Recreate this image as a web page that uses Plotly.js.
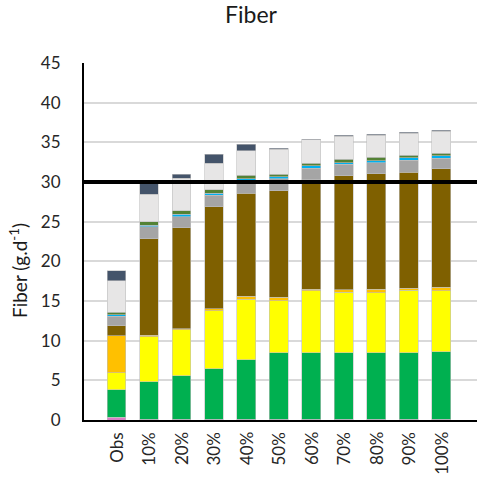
<!DOCTYPE html>
<html><head><meta charset="utf-8">
<script src="https://cdn.plot.ly/plotly-3.0.1.min.js"></script>
<style>html,body{margin:0;padding:0;background:#fff}#c{width:479px;height:482px}</style>
</head><body><div id="c"></div>
<script>
const categories = ["Obs","10%","20%","30%","40%","50%","60%","70%","80%","90%","100%"];
const pinkBase   = [0.35,0,0,0,0,0,0,0,0,0,0];
const slateBase  = [0,0.12,0.12,0.12,0.12,0.12,0.12,0.12,0.12,0.12,0.12];
const greenVals  = [3.45,4.71,5.43,6.35,7.45,8.33,8.33,8.33,8.33,8.33,8.48];
const yellowVals = [2.16,5.67,5.8,7.28,7.63,6.6,7.85,7.65,7.6,7.9,7.7];
const orangeVals = [4.63,0.2,0.15,0.25,0.4,0.45,0.2,0.3,0.45,0.25,0.45];
const brownVals  = [1.26,12.15,12.74,12.89,12.98,13.37,13.8,14.36,14.51,14.62,14.89];
const grayVals   = [1.25,1.48,1.39,1.47,1.62,1.51,1.42,1.47,1.43,1.51,1.34];
const blueVals   = [0.14,0.25,0.3,0.25,0.18,0.29,0.3,0.21,0.21,0.34,0.3];
const oliveVals  = [0.33,0.38,0.42,0.42,0.5,0.33,0.33,0.42,0.46,0.33,0.33];
const lightVals  = [3.99,3.49,4.12,3.33,3.07,3.1,2.95,2.89,2.79,2.75,2.79];
const darkVals   = [1.26,1.45,0.5,1.13,0.84,0.15,0.12,0.14,0.11,0.11,0.11];
const threshold  = [30];
const titleText  = 'Fiber';
const yTitleText = 'Fiber (g.d<sup>-1</sup>)';

const FONT = 'Lato, "Open Sans", sans-serif';
const series = [
  [pinkBase,'#D97FC6'],[slateBase,'#6C8199'],[greenVals,'#00B050'],[yellowVals,'#FFFF00'],
  [orangeVals,'#FFC000'],[brownVals,'#7F6000'],[grayVals,'#A5A5A5'],[blueVals,'#00B0F0'],
  [oliveVals,'#548235'],[lightVals,'#E7E6E6'],[darkVals,'#44546A']
];
const traces = series.map(([v,c]) => ({
  type:'bar', x:categories, y:v, marker:{color:c, line:{color:'#BFBFBF', width:0.6}},
  hoverinfo:'skip'
}));

// measure label widths so rotated labels can be top-aligned under the axis
const ctx = document.createElement('canvas').getContext('2d');
ctx.font = '17px ' + FONT;
const tickAnns = categories.map(c => ({
  x:c, xref:'x', y:0, yref:'paper', yanchor:'middle', xanchor:'center',
  yshift: -12 - ctx.measureText(c).width / 2,
  text:c, textangle:-90, showarrow:false, font:{size:17, color:'#262626', family:FONT}
}));

const layout = {
  width:479, height:482, barmode:'stack', bargap:0.42, showlegend:false,
  paper_bgcolor:'#fff', plot_bgcolor:'#fff',
  margin:{l:84, r:2, t:63, b:62},
  font:{family:FONT, color:'#262626'},
  title:{text:titleText, x:0.524, xref:'container', y:0.968, yref:'container', yanchor:'middle',
         font:{size:23, color:'#1a1a1a'}},
  xaxis:{type:'category', range:[-1,11.1], showgrid:false, showticklabels:false,
         showline:true, linecolor:'#000', linewidth:2, ticks:'', fixedrange:true},
  yaxis:{range:[0,45], dtick:5, showgrid:true, gridcolor:'#D9D9D9', gridwidth:2,
         tickfont:{size:17}, showline:true, linecolor:'#000', linewidth:2, ticks:'',
         ticklabelstandoff:18, zeroline:false},
  annotations: tickAnns.concat([{
    x:-0.168, xref:'paper', y:0.42, yref:'paper', xanchor:'center', yanchor:'middle',
    text:yTitleText, textangle:-90, showarrow:false, font:{size:19, color:'#1a1a1a'}
  }]),
  shapes: threshold.map(t => ({type:'line', xref:'paper', x0:0, x1:1, yref:'y', y0:t, y1:t,
                              line:{color:'#000', width:4}}))
};
Plotly.newPlot('c', traces, layout, {displayModeBar:false, staticPlot:true});
</script></body></html>
